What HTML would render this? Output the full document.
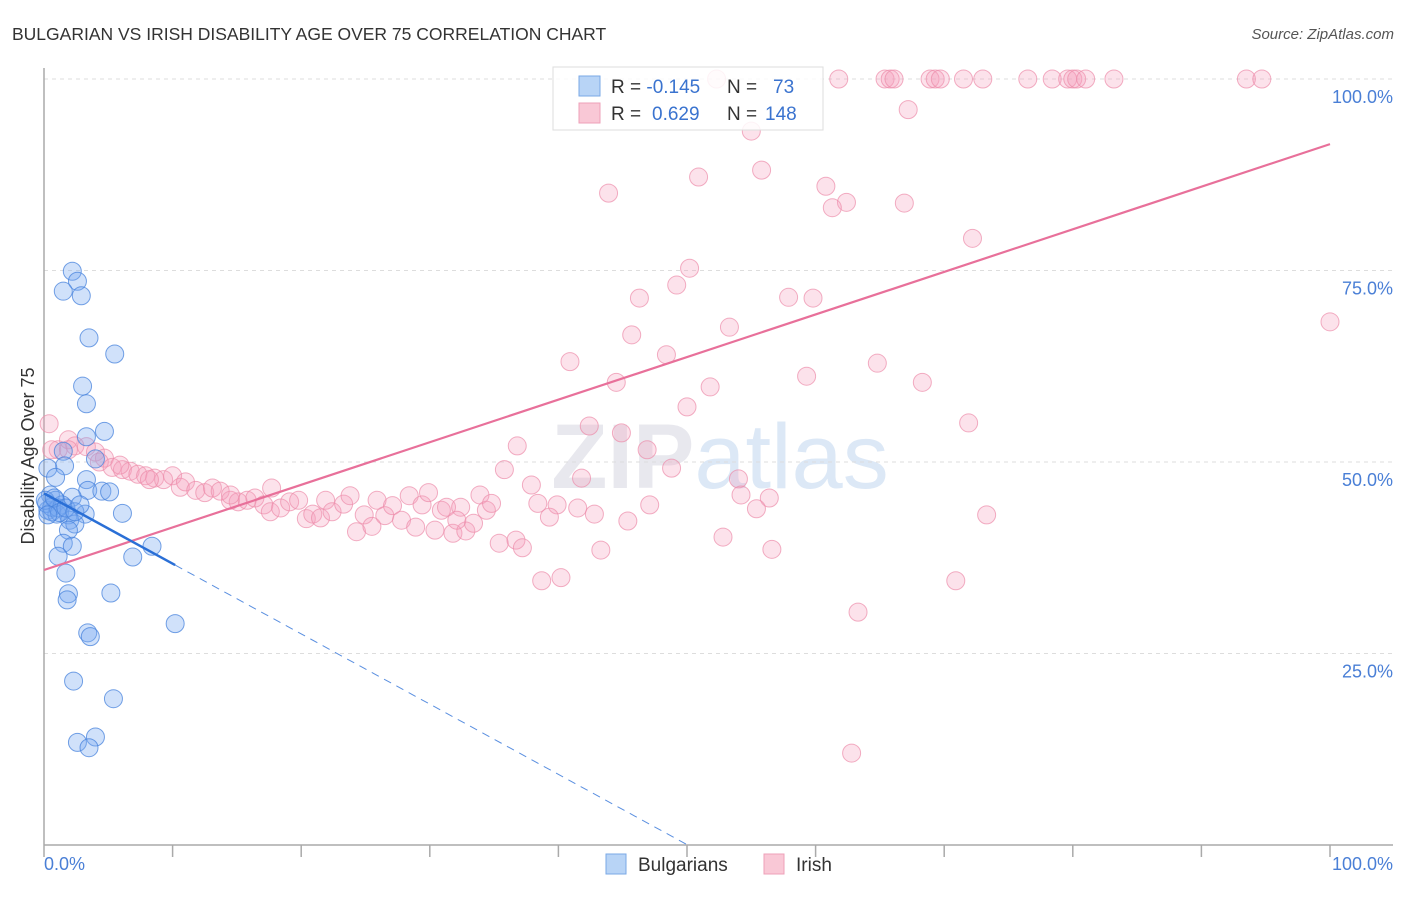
<!DOCTYPE html>
<html><head><meta charset="utf-8"><style>
body{margin:0;background:#fff;font-family:"Liberation Sans",sans-serif}
svg text{font-family:"Liberation Sans",sans-serif}
</style></head><body>
<svg id="chart" width="1406" height="892" xmlns="http://www.w3.org/2000/svg">
<text x="12" y="40" font-size="17.5" fill="#333">BULGARIAN VS IRISH DISABILITY AGE OVER 75 CORRELATION CHART</text>
<text x="1394" y="39" font-size="15" fill="#555" text-anchor="end" font-style="italic">Source: ZipAtlas.com</text>
<text x="720" y="488" font-size="92" fill="#e8e8ee" text-anchor="middle" font-weight="bold" font-family="Liberation Serif">ZIP<tspan fill="#dce8f6" font-family="Liberation Sans" font-weight="normal">atlas</tspan></text>
<g id="grid"></g>
<g id="axes"></g>
<g id="marks"></g>
<text transform="translate(34,456) rotate(-90)" font-size="18" fill="#333" text-anchor="middle">Disability Age Over 75</text>
<g>
<rect x="553" y="67" width="270" height="63" fill="#fff" fill-opacity="0.85" stroke="#ddd"/>
<rect x="579" y="76" width="21" height="20" fill="#b8d4f6" stroke="#7aa8e6"/>
<rect x="579" y="103" width="21" height="20" fill="#f9c8d6" stroke="#eea0b8"/>
<text x="611" y="93" font-size="19" fill="#333">R = <tspan fill="#3a73cf">-0.145</tspan><tspan x="727">N = </tspan><tspan x="773" fill="#3a73cf">73</tspan></text>
<text x="611" y="120" font-size="19" fill="#333">R = <tspan x="652" fill="#3a73cf">0.629</tspan><tspan x="727">N = </tspan><tspan x="765" fill="#3a73cf">148</tspan></text>
</g>
<g>
<rect x="606" y="854" width="20" height="20" fill="#b8d4f6" stroke="#7aa8e6"/>
<text x="638" y="871" font-size="19" fill="#333">Bulgarians</text>
<rect x="764" y="854" width="20" height="20" fill="#f9c8d6" stroke="#eea0b8"/>
<text x="796" y="871" font-size="19" fill="#333">Irish</text>
</g>
</svg>
<script>
const yTicks=[25,50,75,100];
const yTickLabels=["25.0%","50.0%","75.0%","100.0%"];
const xTickLabels=["0.0%","100.0%"];
const blueX=[2.2,2.6,1.5,2.9,3.5,5.5,3.0,3.3,4.7,3.3,1.5,4.0,1.6,0.3,0.9,3.3,3.4,4.5,5.1,0.5,2.2,0.9,1.4,0.3,0.6,1.0,1.9,3.2,6.1,2.0,2.4,1.9,1.5,2.2,8.4,1.1,6.9,1.7,1.9,5.2,1.8,10.2,3.4,3.6,2.3,5.4,4.0,2.6,3.5,0.2,0.6,1.1,0.1,0.8,1.2,0.3,1.7,2.4,2.8];
const blueY=[74.9,73.6,72.3,71.7,66.2,64.1,59.9,57.6,54.0,53.3,51.4,50.4,49.5,49.2,48.0,47.7,46.3,46.2,46.1,45.7,45.4,45.0,44.4,43.7,43.5,43.2,43.1,43.2,43.3,42.4,41.9,41.1,39.4,39.0,39.0,37.7,37.6,35.5,32.8,32.9,32.0,28.9,27.7,27.2,21.4,19.1,14.1,13.4,12.7,44.6,44.1,44.0,45.0,45.3,43.4,43.1,44.0,43.5,44.4];
const pinkX=[52.3,61.8,65.4,65.8,66.1,68.9,69.3,69.7,71.5,73.0,76.5,78.4,79.6,80.0,80.3,81.0,83.2,93.5,94.7,
67.2,55.0,55.8,50.9,43.9,60.8,62.4,61.3,66.9,72.2,50.2,49.2,46.3,57.9,59.8,53.3,45.7,100.0,48.4,40.9,64.8,59.3,44.5,51.8,68.3,50.0,42.4,71.9,44.9,36.8,46.9,48.8,35.8,54.0,41.8,37.9,54.2,56.4,55.4,47.1,38.4,39.9,41.5,42.8,45.4,73.3,39.3,52.8,35.4,36.7,37.2,43.3,56.6,38.7,40.2,70.9,63.3,62.8,
0.4,1.1,1.9,2.4,3.3,4.0,4.7,4.3,5.3,6.1,6.7,7.3,7.9,8.6,9.3,10.0,10.6,11.0,11.8,12.5,13.1,13.7,14.5,15.1,15.8,16.4,17.1,17.6,18.4,19.1,19.8,20.4,20.9,21.5,21.9,22.4,23.3,23.8,24.3,24.9,25.5,25.9,26.5,27.1,27.8,28.4,28.9,29.4,29.9,30.4,30.9,31.3,31.8,32.4,32.8,33.4,33.9,34.4,34.8,32.1,17.7,14.5,8.2,5.9,0.6,1.9];
const pinkY=[100,100,100,100,100,100,100,100,100,100,100,100,100,100,100,100,100,100,100,
96.0,93.2,88.1,87.2,85.1,86.0,83.9,83.2,83.8,79.2,75.3,73.1,71.4,71.5,71.4,67.6,66.6,68.3,64.0,63.1,62.9,61.2,60.4,59.8,60.4,57.2,54.7,55.1,53.8,52.1,51.6,49.2,49.0,47.8,47.9,47.0,45.7,45.3,43.9,44.4,44.6,44.4,44.0,43.2,42.3,43.1,42.8,40.2,39.4,39.8,38.8,38.5,38.6,34.5,34.9,34.5,30.4,12.0,
55.0,51.6,52.9,52.1,52.0,51.3,50.5,50.0,49.3,49.0,48.8,48.4,48.2,47.9,47.7,48.2,46.7,47.4,46.3,46.0,46.6,46.2,45.0,44.8,45.0,45.3,44.4,43.5,44.0,44.8,45.0,42.6,43.2,42.7,45.0,43.5,44.5,45.6,40.9,43.1,41.6,45.0,43.0,44.3,42.4,45.6,41.5,44.4,46.0,41.1,43.7,44.1,40.7,44.1,41.0,42.0,45.7,43.7,44.6,42.4,46.6,45.7,47.7,49.6,51.6,51.6];
const blueTrend=[45.9,-0.917];   // intercept, slope
const pinkTrend=[35.9,0.556];

const NS="http://www.w3.org/2000/svg";
const X0=44,X1=1330,Y0=845,Y100=79;
const sx=v=>X0+(X1-X0)*v/100;
const sy=v=>Y0-(Y0-Y100)*v/100;
function mk(tag,attrs,parent){const e=document.createElementNS(NS,tag);for(const k in attrs)e.setAttribute(k,attrs[k]);parent.appendChild(e);return e;}
const grid=document.getElementById('grid'),axes=document.getElementById('axes'),marks=document.getElementById('marks');
yTicks.forEach((t,i)=>{
  const l=mk('line',{x1:X0,x2:1393,y1:sy(t),y2:sy(t),stroke:'#ddd','stroke-dasharray':'4,4'},grid);
  
  
  const tx=mk('text',{x:1393,y:sy(t)+24,'font-size':18,fill:'#4a7fd6','text-anchor':'end'},axes);
  tx.textContent=yTickLabels[i];
  
  
});
let a=mk('line',{x1:X0,x2:X0,y1:68,y2:Y0,stroke:'#aaa','stroke-width':1.5},axes);


a=mk('line',{x1:X0,x2:1393,y1:Y0,y2:Y0,stroke:'#aaa','stroke-width':1.5},axes);


for(let i=0;i<=10;i++){
  const t=mk('line',{x1:sx(i*10),x2:sx(i*10),y1:Y0,y2:857,stroke:'#aaa','stroke-width':1.5},axes);
  
  
}
let xl=mk('text',{x:44,y:870,'font-size':18,fill:'#4a7fd6'},axes);xl.textContent=xTickLabels[0];


xl=mk('text',{x:1393,y:870,'font-size':18,fill:'#4a7fd6','text-anchor':'end'},axes);xl.textContent=xTickLabels[1];



pinkX.forEach((x,i)=>{
  const c=mk('circle',{cx:sx(x),cy:sy(pinkY[i]),r:9,fill:'rgba(244,160,188,0.3)',stroke:'rgba(236,140,170,0.7)','stroke-width':1},marks);
  
  
});
blueX.forEach((x,i)=>{
  const c=mk('circle',{cx:sx(x),cy:sy(blueY[i]),r:9,fill:'rgba(120,170,240,0.35)',stroke:'rgba(70,130,220,0.75)','stroke-width':1},marks);
  
  
});
let tl=mk('line',{x1:sx(0),y1:sy(pinkTrend[0]),x2:sx(100),y2:sy(pinkTrend[0]+pinkTrend[1]*100),stroke:'#e8709a','stroke-width':2.2},marks);


const bxMax=Math.max(...blueX);
tl=mk('line',{x1:sx(0),y1:sy(blueTrend[0]),x2:sx(bxMax),y2:sy(blueTrend[0]+blueTrend[1]*bxMax),stroke:'#2a6fd6','stroke-width':2.5},marks);


const xz=-blueTrend[0]/blueTrend[1];
tl=mk('line',{x1:sx(bxMax),y1:sy(blueTrend[0]+blueTrend[1]*bxMax),x2:sx(xz),y2:sy(0),stroke:'#5a8fe0','stroke-width':1,'stroke-dasharray':'8,6'},marks);


</script>
</body></html>
